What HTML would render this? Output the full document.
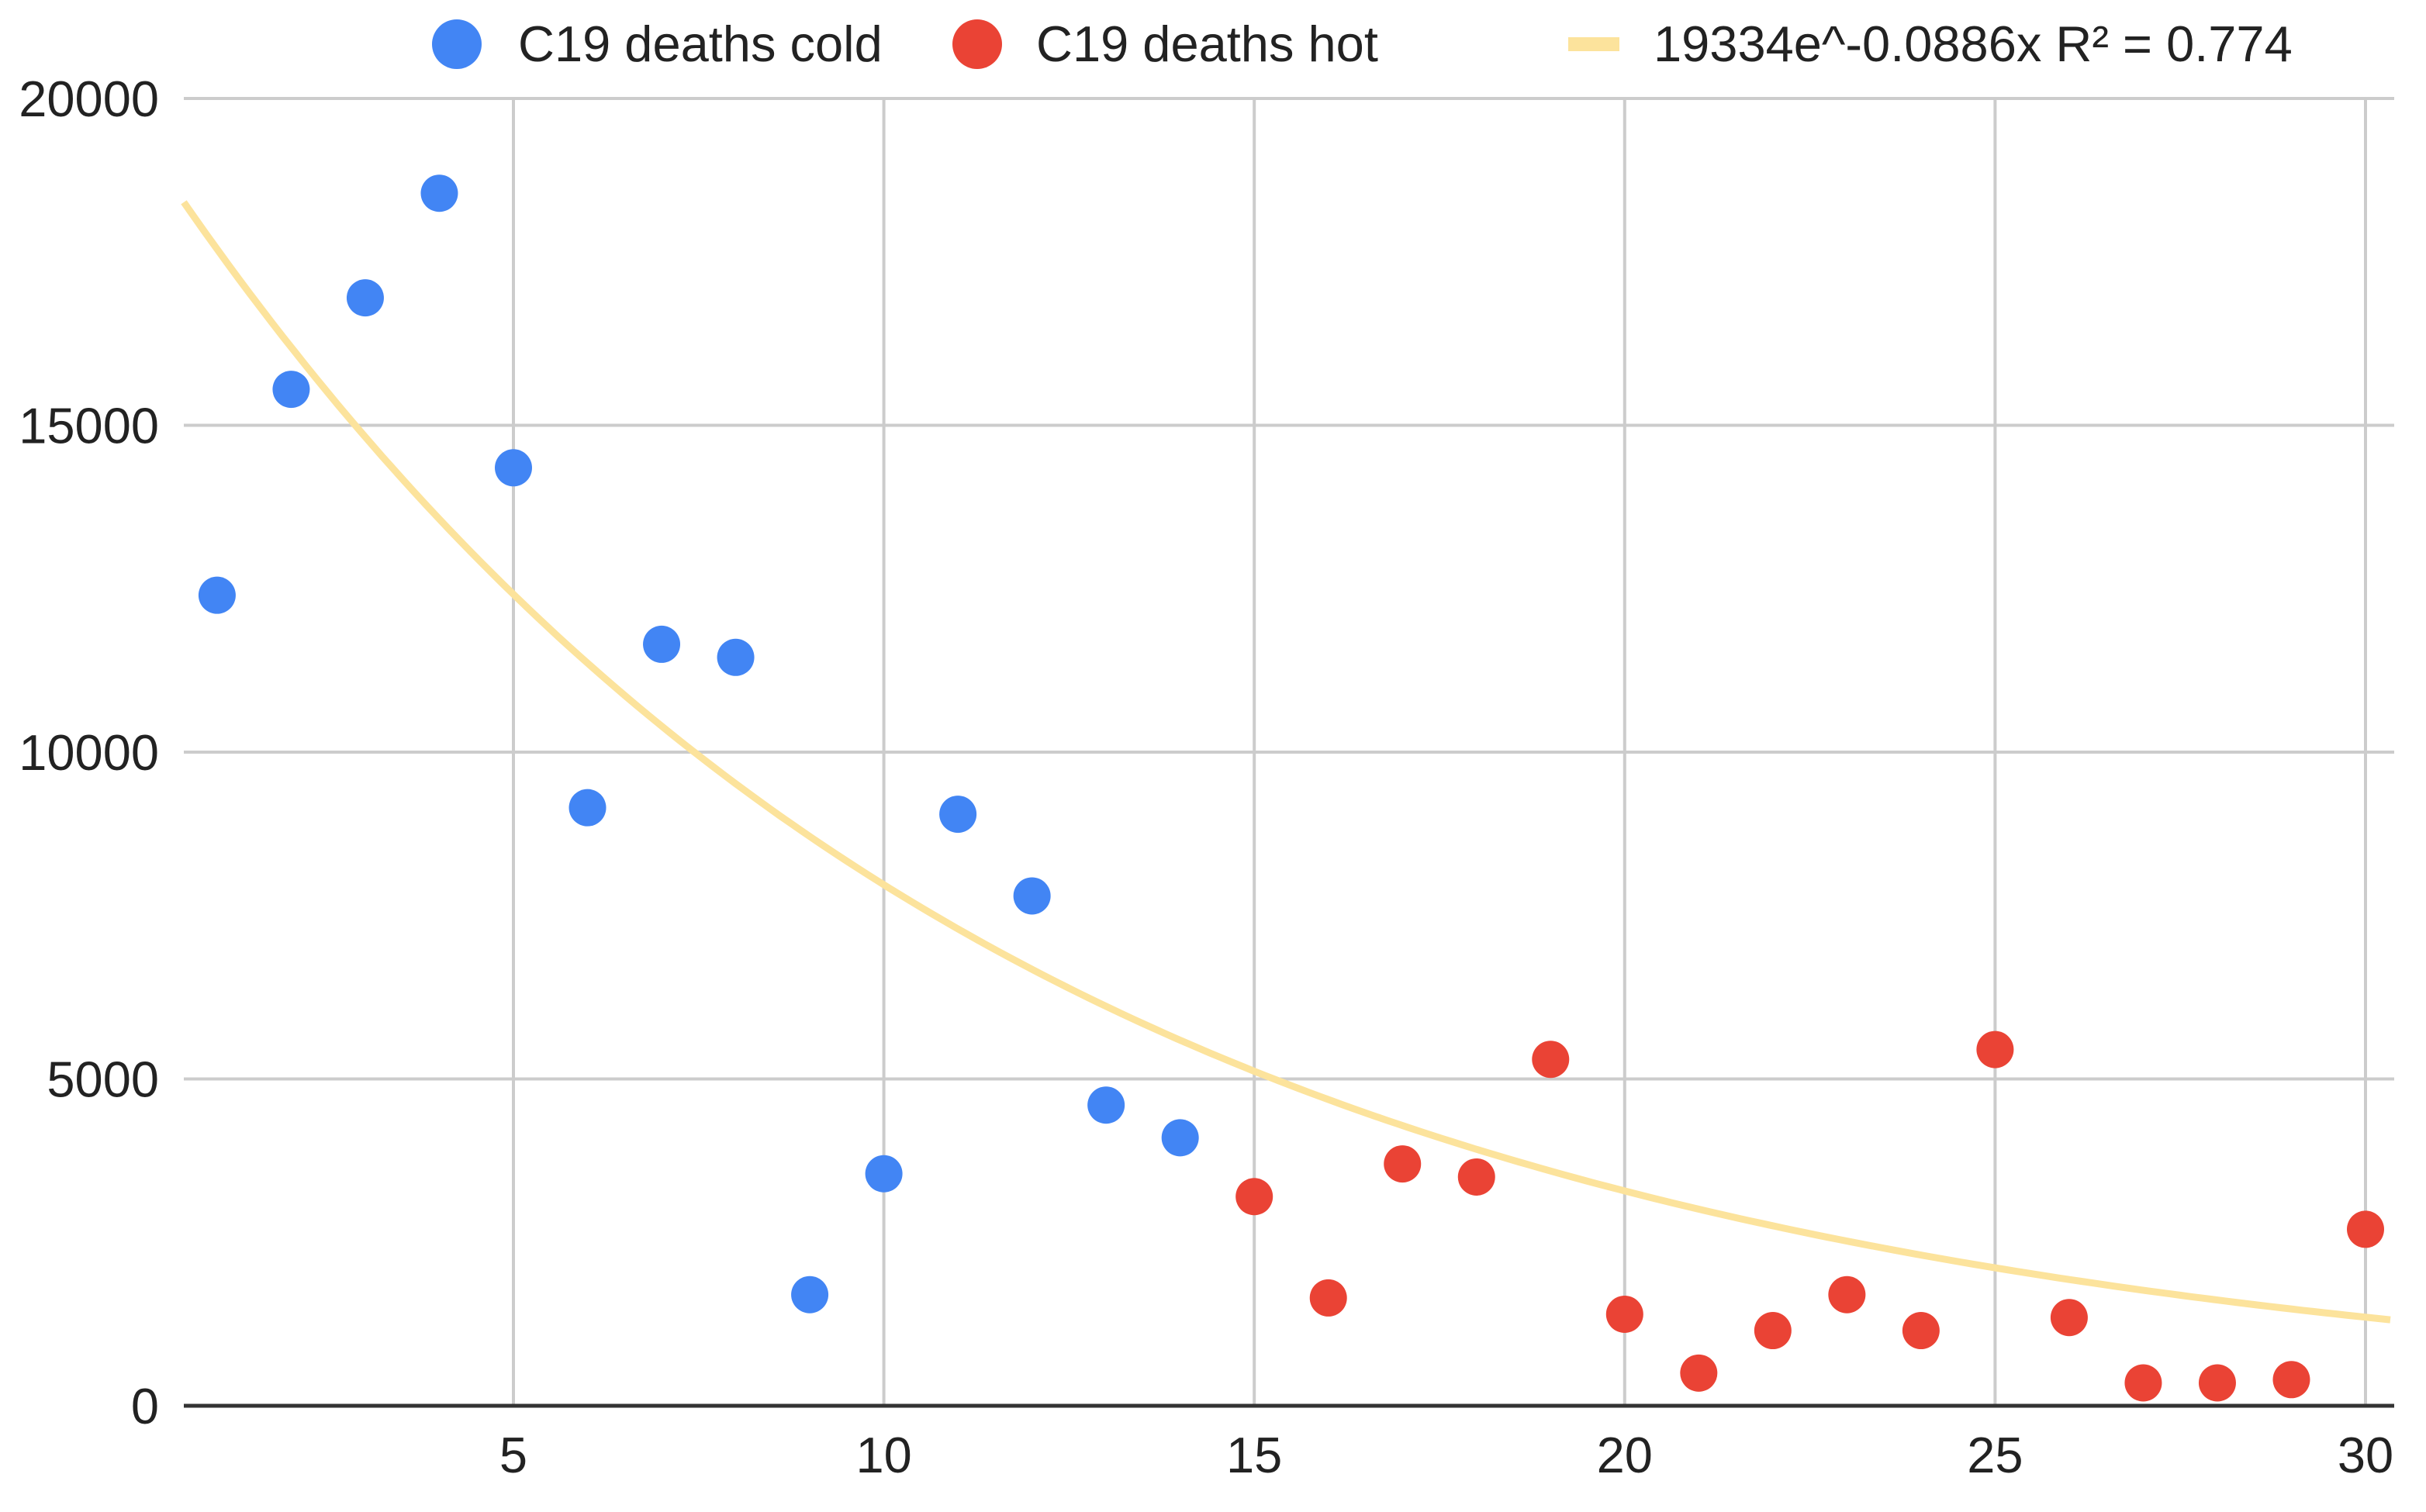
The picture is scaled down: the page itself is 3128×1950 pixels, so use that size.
<!DOCTYPE html>
<html><head><meta charset="utf-8"><style>
html,body{margin:0;padding:0;background:#fff}
svg{display:block;font-family:"Liberation Sans",Arial,sans-serif}
</style></head><body>
<svg id="chart" width="3128" height="1950" viewBox="0 0 3128 1950">
<g id="grid"></g>
<g id="trend"></g>
<g id="pts"></g>
<g id="axes"></g>
<g font-size="65" fill="#222">
  <circle cx="589" cy="57" r="32" fill="#4285f4"/>
  <text x="668" y="79">C19 deaths cold</text>
  <circle cx="1260" cy="57" r="32" fill="#ea4335"/>
  <text x="1336" y="79">C19 deaths hot</text>
  <rect x="2022" y="48" width="66" height="18" fill="#fce39c"/>
  <text x="2132" y="79">19334e^-0.0886x R² = 0.774</text>
</g>
</svg>
<script>
const coldX=[1,2,3,4,5,6,7,8,9,10,11,12,13,14];
const coldY=[12400,15550,16950,18550,14350,9150,11650,11450,1700,3550,9050,7800,4600,4100];
const hotX=[15,16,17,18,19,20,21,22,23,24,25,26,27,28,29,30];
const hotY=[3200,1650,3700,3500,5300,1400,500,1150,1700,1150,5450,1350,350,350,400,2700];
const xTicks=[5,10,15,20,25,30];
const yTicks=[0,5000,10000,15000,20000];
const trendA=19334, trendB=-0.0886;
const NS="http://www.w3.org/2000/svg";
const L=237,R=3087,T=127,B=1813;
const sx=v=>184.4+v*95.52;
const sy=v=>B-(v/20000)*(B-T);
const xMin=(L-184.4)/95.52, xMax=(3082-184.4)/95.52;
function mk(p,t,a){const e=document.createElementNS(NS,t);for(const k in a)e.setAttribute(k,a[k]);p.appendChild(e);return e;}
const grid=document.getElementById('grid'),axes=document.getElementById('axes');
yTicks.forEach(v=>{
  if(v>0){const l=mk(grid,'line',{x1:L,x2:R,y1:sy(v),y2:sy(v),stroke:'#cccccc','stroke-width':4});
  
  }
  const t=mk(axes,'text',{x:205,y:sy(v)+23,'text-anchor':'end','font-size':65,fill:'#222'});
  t.textContent=v;
  
  
});
xTicks.forEach(v=>{
  const l=mk(grid,'line',{x1:sx(v),x2:sx(v),y1:T,y2:B,stroke:'#cccccc','stroke-width':4});
  
  
  const t=mk(axes,'text',{x:sx(v),y:1899,'text-anchor':'middle','font-size':65,fill:'#222'});
  t.textContent=v;
  
  
});
const ax=mk(axes,'line',{x1:L,x2:R,y1:B,y2:B,stroke:'#333','stroke-width':5});


let d='';
for(let i=0;i<=200;i++){const x=xMin+(xMax-xMin)*i/200;const y=trendA*Math.exp(trendB*x);d+=(i?'L':'M')+sx(x).toFixed(1)+','+sy(y).toFixed(1);}
const tp=mk(document.getElementById('trend'),'path',{d:d,fill:'none',stroke:'#fce39c','stroke-width':9});


const pts=document.getElementById('pts');
coldX.forEach((x,i)=>{const c=mk(pts,'circle',{cx:sx(x),cy:sy(coldY[i]),r:24,fill:'#4285f4'});
  
  });
hotX.forEach((x,i)=>{const c=mk(pts,'circle',{cx:sx(x),cy:sy(hotY[i]),r:24,fill:'#ea4335'});
  
  });
</script>
</body></html>
